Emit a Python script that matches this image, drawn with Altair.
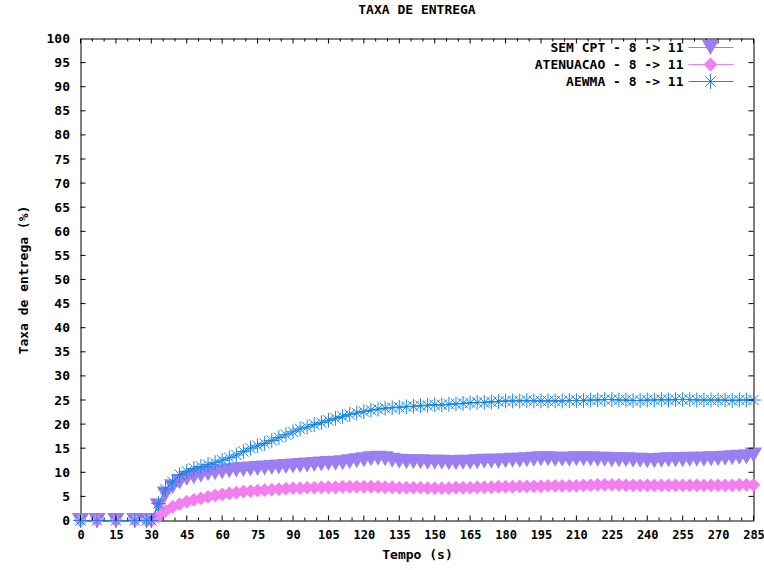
import altair as alt
import pandas as pd

tempo = [0, 7, 15, 23, 28,
         30, 33, 36, 39, 42, 45, 48, 51, 54, 57,
         60, 63, 66, 69, 72, 75, 78, 81, 84, 87,
         90, 93, 96, 99, 102, 105, 108, 111, 114, 117,
         120, 123, 126, 129, 132, 135, 138, 141, 144, 147,
         150, 153, 156, 159, 162, 165, 168, 171, 174, 177,
         180, 183, 186, 189, 192, 195, 198, 201, 204, 207,
         210, 213, 216, 219, 222, 225, 228, 231, 234, 237,
         240, 243, 246, 249, 252, 255, 258, 261, 264, 267,
         270, 273, 276, 279, 282, 285]

sem_cpt = [0, 0, 0, 0, 0,
           0, 3.0, 5.5, 7.0, 8.0, 8.7, 9.1, 9.4, 9.7, 9.9,
           10.1, 10.3, 10.5, 10.6, 10.7, 10.8, 10.9, 11.0, 11.1, 11.2,
           11.3, 11.4, 11.5, 11.6, 11.7, 11.8, 11.9, 12.0, 12.2, 12.4,
           12.6, 12.8, 12.9, 12.8, 12.5, 12.3, 12.2, 12.2, 12.2, 12.1,
           12.1, 12.1, 12.0, 12.0, 12.1, 12.1, 12.2, 12.3, 12.3, 12.3,
           12.4, 12.5, 12.5, 12.6, 12.7, 12.8, 12.8, 12.7, 12.7, 12.7,
           12.8, 12.8, 12.8, 12.7, 12.7, 12.6, 12.6, 12.6, 12.5, 12.5,
           12.4, 12.4, 12.5, 12.6, 12.6, 12.6, 12.7, 12.7, 12.7, 12.8,
           12.8, 12.9, 13.0, 13.1, 13.2, 13.6]

atenuacao = [0, 0, 0, 0, 0,
             0, 0.8, 2.0, 2.8, 3.4, 3.9, 4.3, 4.6, 4.9, 5.2,
             5.4, 5.6, 5.8, 6.0, 6.1, 6.2, 6.3, 6.4, 6.5, 6.6,
             6.7, 6.7, 6.8, 6.8, 6.9, 6.9, 6.9, 7.0, 7.0, 7.0,
             7.0, 7.0, 7.0, 6.9, 6.9, 6.8, 6.8, 6.8, 6.8, 6.7,
             6.7, 6.7, 6.7, 6.8, 6.8, 6.8, 6.9, 6.9, 6.9, 7.0,
             7.0, 7.0, 7.1, 7.1, 7.1, 7.1, 7.2, 7.2, 7.2, 7.2,
             7.2, 7.3, 7.3, 7.4, 7.4, 7.4, 7.4, 7.3, 7.3, 7.3,
             7.3, 7.3, 7.3, 7.3, 7.3, 7.3, 7.3, 7.3, 7.3, 7.3,
             7.3, 7.3, 7.3, 7.4, 7.4, 7.4]

aewma = [0, 0, 0, 0, 0,
         0, 3.5, 6.5, 8.0, 9.5, 10.2, 10.8, 11.2, 11.6, 12.0,
         12.5, 13.0, 13.6, 14.3, 15.0, 15.5, 16.0, 16.6, 17.2, 17.8,
         18.4, 19.0, 19.4, 19.9, 20.3, 20.8, 21.2, 21.6, 22.0, 22.3,
         22.6, 22.9, 23.1, 23.3, 23.4, 23.5, 23.6, 23.7, 23.8, 23.9,
         24.0, 24.0, 24.1, 24.2, 24.3, 24.4, 24.5, 24.5, 24.6, 24.7,
         24.8, 24.8, 24.8, 24.9, 24.8, 24.8, 24.8, 24.8, 24.8, 24.9,
         24.9, 24.9, 25.0, 25.0, 25.1, 25.1, 25.0, 25.0, 24.9, 24.9,
         25.0, 25.0, 25.1, 25.0, 25.1, 25.1, 25.1, 25.0, 25.0, 25.0,
         25.0, 25.0, 24.9, 25.0, 25.0, 25.0]

series_names = ["SEM CPT - 8 -> 11", "ATENUACAO - 8 -> 11", "AEWMA - 8 -> 11"]
series_colors = ["#9a7ff2", "#f27ef0", "#1a86e4"]

x_major = [0, 15, 30, 45, 60, 75, 90, 105, 120, 135, 150, 165, 180, 195,
           210, 225, 240, 255, 270, 285]
x_minor = [5, 10, 20, 25, 35, 40, 50, 55, 65, 70, 80, 85, 95, 100, 110, 115,
           125, 130, 140, 145, 155, 160, 170, 175, 185, 190, 200, 205, 215,
           220, 230, 235, 245, 250, 260, 265, 275, 280]
y_ticks = [0, 5, 10, 15, 20, 25, 30, 35, 40, 45, 50, 55, 60, 65, 70, 75,
           80, 85, 90, 95, 100]

for s in (sem_cpt, atenuacao, aewma):
    assert len(s) == len(tempo)

W, H = 673, 482
FONT = "DejaVu Sans Mono"
FS = 13

frames = []
for name, vals in zip(series_names, [sem_cpt, atenuacao, aewma]):
    frames.append(pd.DataFrame({"tempo": tempo, "taxa": vals, "serie": name}))
df = pd.concat(frames, ignore_index=True)

xscale = alt.Scale(domain=[0, 285], nice=False, zero=False)
yscale = alt.Scale(domain=[0, 100], nice=False)

axis_style = dict(labelFont=FONT, labelFontSize=FS, labelFontWeight="bold",
                  labelColor="black", titleFont=FONT, titleFontSize=FS,
                  titleFontWeight="bold", titleColor="black")

x_style = dict(axis_style, labelFontSize=12)
x_axis = alt.Axis(values=x_major, format="d", ticks=False, domain=False,
                  grid=False, labelPadding=9, title="Tempo (s)", titlePadding=8,
                  labelFlush=False, **x_style)
y_axis = alt.Axis(values=y_ticks, format="d", ticks=False, domain=False,
                  grid=False, labelPadding=11, title="Taxa de entrega (%)",
                  titlePadding=16, **axis_style)

def X(field):
    return alt.X(field, scale=xscale, axis=x_axis)

def Y(field):
    return alt.Y(field, scale=yscale, axis=y_axis)

asterisk = "M-1,0L1,0M0,-1L0,1M-0.7,-0.7L0.7,0.7M-0.7,0.7L0.7,-0.7"
marker_props = [
    dict(shape="triangle-down", size=300, filled=True, opacity=1),
    dict(shape="diamond", size=190, filled=True, opacity=1),
    dict(shape=asterisk, size=220, filled=False, opacity=1, strokeWidth=1),
]

layers = []
for i, name in enumerate(series_names):
    sub = df[df["serie"] == name]
    line = alt.Chart(sub).mark_line(strokeWidth=1.2, color=series_colors[i]).encode(
        x=X("tempo:Q"), y=Y("taxa:Q"))
    pts = alt.Chart(sub).mark_point(color=series_colors[i], **marker_props[i]).encode(
        x=X("tempo:Q"), y=Y("taxa:Q"))
    layers += [line, pts]

# inward tick marks (gnuplot style, on all four sides)
def xticks(vals, length):
    d = pd.DataFrame({"tempo": vals})
    bottom = alt.Chart(d).mark_rule(color="black", strokeWidth=1).encode(
        x=X("tempo:Q"), y=alt.value(H), y2=alt.value(H - length))
    top = alt.Chart(d).mark_rule(color="black", strokeWidth=1).encode(
        x=X("tempo:Q"), y=alt.value(0), y2=alt.value(length))
    return [bottom, top]

def yticks(vals, length):
    d = pd.DataFrame({"taxa": vals})
    left = alt.Chart(d).mark_rule(color="black", strokeWidth=1).encode(
        y=Y("taxa:Q"), x=alt.value(0), x2=alt.value(length))
    right = alt.Chart(d).mark_rule(color="black", strokeWidth=1).encode(
        y=Y("taxa:Q"), x=alt.value(W), x2=alt.value(W - length))
    return [left, right]

tick_layers = xticks(x_major, 5) + xticks(x_minor, 3) + yticks(y_ticks[1:-1], 5)

# manual legend: label on the left, sample on the right
legend_layers = []
leg_y = [9, 26, 43]
for i, name in enumerate(series_names):
    d = pd.DataFrame({"label": [name]})
    txt = alt.Chart(d).mark_text(align="right", baseline="middle", font=FONT,
                                 fontSize=FS, fontWeight="bold", color="black").encode(
        x=alt.value(603), y=alt.value(leg_y[i]), text="label:N")
    rl = alt.Chart(d).mark_rule(color=series_colors[i], strokeWidth=1.2).encode(
        x=alt.value(608), x2=alt.value(653), y=alt.value(leg_y[i]))
    mk = alt.Chart(d).mark_point(color=series_colors[i], **marker_props[i]).encode(
        x=alt.value(630), y=alt.value(leg_y[i]))
    legend_layers += [txt, rl, mk]

chart = alt.layer(*layers, *tick_layers, *legend_layers).properties(
    width=W, height=H,
    background="white",
    title=alt.TitleParams("TAXA DE ENTREGA", font=FONT, fontSize=FS,
                          fontWeight="bold", color="black", offset=16, anchor="middle"),
    autosize=alt.AutoSizeParams(type="none"),
    padding={"left": 80.5, "top": 38.5, "right": 10.5, "bottom": 49.5},
).configure_view(
    stroke="black", strokeWidth=1
)

chart.save("out.html", embed_options={"renderer": "svg", "actions": False})
